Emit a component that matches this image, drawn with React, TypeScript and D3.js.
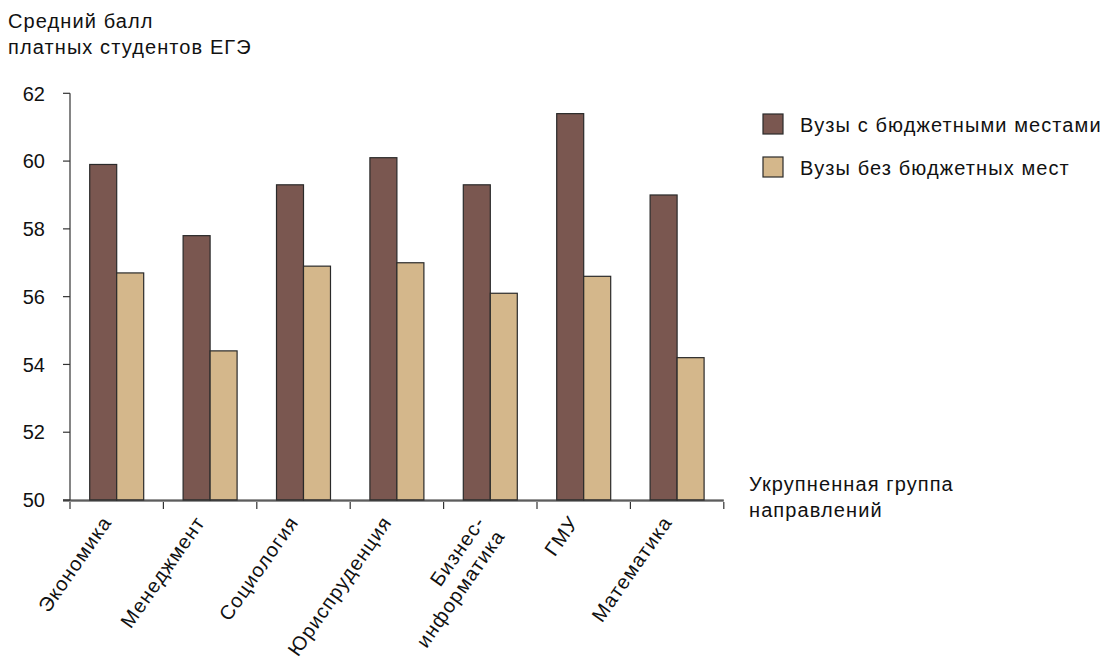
import React from "react";
import * as d3 from "d3";

const categories: string[][] = [
  ["Экономика"],
  ["Менеджмент"],
  ["Социология"],
  ["Юриспруденция"],
  ["Бизнес-", "информатика"],
  ["ГМУ"],
  ["Математика"],
];
const seriesNames = ["Вузы с бюджетными местами", "Вузы без бюджетных мест"];
const withBudget = [59.9, 57.8, 59.3, 60.1, 59.3, 61.4, 59.0];
const withoutBudget = [56.7, 54.4, 56.9, 57.0, 56.1, 56.6, 54.2];
const yTicks = [50, 52, 54, 56, 58, 60, 62];
const yTitle = ["Средний балл", "платных студентов ЕГЭ"];
const xTitle = ["Укрупненная группа", "направлений"];
const colors = ["#7a5750", "#d4b78b"];

const W = 1106;
const H = 662;
const FONT = "'Liberation Sans', Arial, Helvetica, sans-serif";
const LS = 1.1;

export default function App() {
  const keys = categories.map((c) => c.join(""));
  const x = d3.scaleBand<string>().domain(keys).range([70, 723.8]).padding(0);
  const inner = d3
    .scaleBand<number>()
    .domain([0, 1])
    .range([0, x.bandwidth()])
    .paddingInner(0)
    .paddingOuter(0.73);
  const y = d3.scaleLinear().domain([50, 62]).range([500, 93.3]);
  const series = [withBudget, withoutBudget];
  const axisColor = "#333";

  return (
    <svg
      width={W}
      height={H}
      style={{ position: "absolute", left: 0, top: 0, background: "#fff" }}
      fontFamily={FONT}
    >
      {/* y title */}
      {yTitle.map((t, i) => (
        <text key={i} x={8} y={28 + i * 26} fontSize={20} letterSpacing={LS} fill="#111">
          {t}
        </text>
      ))}
      {/* bars */}
      {keys.map((k, ci) =>
        series.map((s, si) => {
          const x0 = (x(k) as number) + (inner(si) as number);
          const yv = y(s[ci]);
          return (
            <rect
              key={k + si}
              x={x0}
              y={yv}
              width={inner.bandwidth()}
              height={y(50) - yv}
              fill={colors[si]}
              stroke="#2a2a2a"
              strokeWidth={1.2}
            />
          );
        })
      )}
      {/* y axis */}
      <line x1={70} x2={70} y1={y(62)} y2={y(50)} stroke={axisColor} strokeWidth={1.2} />
      {yTicks.map((t) => (
        <g key={t}>
          <line x1={63} x2={70} y1={y(t)} y2={y(t)} stroke={axisColor} strokeWidth={1.2} />
          <text x={45} y={y(t)} dy="0.36em" textAnchor="end" fontSize={20} fill="#111">
            {t}
          </text>
        </g>
      ))}
      {/* x axis */}
      <line x1={63} x2={723.8} y1={y(50)} y2={y(50)} stroke={axisColor} strokeWidth={1.2} />
      <line x1={63} x2={723.8} y1={y(50) + 1} y2={y(50) + 1} stroke="#222" strokeWidth={1} />
      {[...keys.map((k) => x(k) as number), 723.8].map((tx, i) => (
        <line key={i} x1={tx} x2={tx} y1={502} y2={509} stroke={axisColor} strokeWidth={1.2} />
      ))}
      {/* x labels */}
      {categories.map((lines, ci) => {
        const cx = (x(keys[ci]) as number) + x.bandwidth() / 2;
        return (
          <text
            key={ci}
            transform={`translate(${cx - 16},${514}) rotate(-55)`}
            textAnchor="end"
            fontSize={20}
            letterSpacing={LS}
            fill="#111"
          >
            {lines.map((l, li) => (
              <tspan key={li} x={0} dy={li === 0 ? "0.72em" : "1.2em"}>
                {l}
              </tspan>
            ))}
          </text>
        );
      })}
      {/* x title */}
      {xTitle.map((t, i) => (
        <text key={i} x={749} y={491 + i * 26} fontSize={20} letterSpacing={LS} fill="#111">
          {t}
        </text>
      ))}
      {/* legend */}
      {seriesNames.map((n, i) => (
        <g key={n}>
          <rect
            x={763}
            y={114 + i * 43}
            width={20}
            height={20}
            fill={colors[i]}
            stroke="#2a2a2a"
            strokeWidth={1.2}
          />
          <text x={800} y={131.5 + i * 43} fontSize={20} letterSpacing={LS} fill="#111">
            {n}
          </text>
        </g>
      ))}
    </svg>
  );
}
